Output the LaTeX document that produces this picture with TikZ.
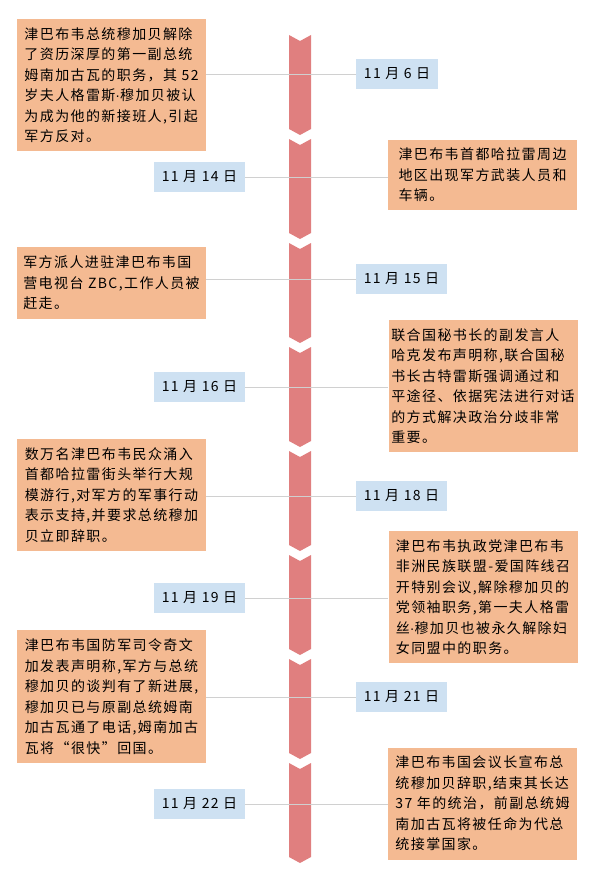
\documentclass[tikz,border=0pt]{standalone}
\usepackage{fontspec}
\setmainfont{Noto Sans CJK SC}[LetterSpace=10]
\newfontfamily\latinfont{Liberation Sans}
\newcommand{\mdot}{{\latinfont ·}}
\definecolor{evfill}{HTML}{F4BA92}
\definecolor{datefill}{HTML}{CEE1F2}
\definecolor{spinered}{HTML}{E07F7F}
\definecolor{linkgray}{HTML}{D0D0D0}
\begin{document}
\begin{tikzpicture}[x=1pt,y=-1pt,
    event/.style={fill=evfill,align=left,minimum width=189pt,inner xsep=0pt,inner ysep=8.5pt,
      font=\fontsize{14pt}{20.5pt}\selectfont},
    datebox/.style={fill=datefill,minimum height=30pt,inner xsep=8pt,
      font=\fontsize{14pt}{20.5pt}\selectfont},
    link/.style={draw=linkgray,line width=0.9pt}]
	  \useasboundingbox (0,0) rectangle (591,875);
	  % spine
	  \foreach \t in {35,139,...,763}
	    \fill[spinered] (289,\t) -- (300,\t+6) -- (311,\t) -- (311,\t+94) -- (300,\t+100) -- (289,\t+94) -- cycle;
	  % events
	  \node[event] (e1) at (111.5,85) {津巴布韦总统穆加贝解除\\了资历深厚的第一副总统\\姆南加古瓦的职务，其 52\\岁夫人格雷斯\mdot 穆加贝被认\\为成为他的新接班人,引起\\军方反对。};
	  \node[event] (e2) at (482.5,175) {津巴布韦首都哈拉雷周边\\地区出现军方武装人员和\\车辆。};
	  \node[event] (e3) at (111.5,283) {军方派人进驻津巴布韦国\\营电视台 ZBC,工作人员被\\赶走。};
	  \node[event] (e4) at (483,386) {联合国秘书长的副发言人\\哈克发布声明称,联合国秘\\书长古特雷斯强调通过和\\平途径、依据宪法进行对话\\的方式解决政治分歧非常\\重要。};
	  \node[event] (e5) at (111.5,495) {数万名津巴布韦民众涌入\\首都哈拉雷街头举行大规\\模游行,对军方的军事行动\\表示支持,并要求总统穆加\\贝立即辞职。};
	  \node[event] (e6) at (483,597) {津巴布韦执政党津巴布韦\\非洲民族联盟-爱国阵线召\\开特别会议,解除穆加贝的\\党领袖职务,第一夫人格雷\\丝\mdot 穆加贝也被永久解除妇\\女同盟中的职务。};
	  \node[event] (e7) at (111.5,696.5) {津巴布韦国防军司令奇文\\加发表声明称,军方与总统\\穆加贝的谈判有了新进展,\\穆加贝已与原副总统姆南\\加古瓦通了电话,姆南加古\\瓦将“很快”回国。};
	  \node[event] (e8) at (482.5,803.5) {津巴布韦国会议长宣布总\\统穆加贝辞职,结束其长达\\37 年的统治，前副总统姆\\南加古瓦将被任命为代总\\统接掌国家。};
	  % dates
	  \node[datebox] (d1) at (397,74) {11 月 6 日};
	  \node[datebox] (d2) at (199.5,177) {11 月 14 日};
	  \node[datebox] (d3) at (401.5,279) {11 月 15 日};
	  \node[datebox] (d4) at (199.5,387) {11 月 16 日};
	  \node[datebox] (d5) at (401.5,496) {11 月 18 日};
	  \node[datebox] (d6) at (199.5,598) {11 月 19 日};
	  \node[datebox] (d7) at (401.5,697) {11 月 21 日};
	  \node[datebox] (d8) at (199.5,804) {11 月 22 日};
	  % connectors
	  \draw[link] (e1.east |- d1) -- (d1.west);
	  \draw[link] (d2.east) -- (e2.west |- d2);
	  \draw[link] (e3.east |- d3) -- (d3.west);
	  \draw[link] (d4.east) -- (e4.west |- d4);
	  \draw[link] (e5.east |- d5) -- (d5.west);
	  \draw[link] (d6.east) -- (e6.west |- d6);
	  \draw[link] (e7.east |- d7) -- (d7.west);
	  \draw[link] (d8.east) -- (e8.west |- d8);
	\end{tikzpicture}
\end{document}
